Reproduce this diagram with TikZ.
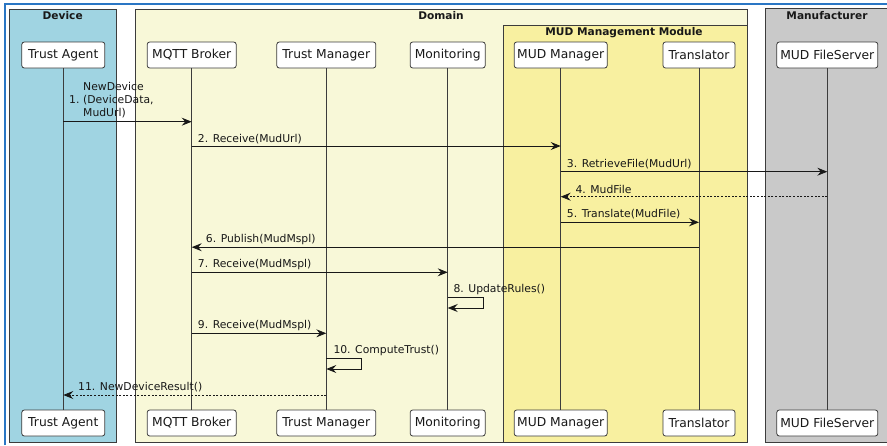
\documentclass[tikz,border=0pt]{standalone}
\usepackage{fontspec}
\setmainfont{DejaVu Sans}
\usetikzlibrary{arrows.meta}
\definecolor{devblue}{RGB}{160,212,226}
\definecolor{domyellow}{RGB}{248,248,216}
\definecolor{modyellow}{RGB}{248,240,160}
\definecolor{mfgray}{RGB}{201,201,201}
\definecolor{edge}{RGB}{60,60,60}
\definecolor{ink}{RGB}{24,24,24}
\definecolor{frameblue}{RGB}{42,118,196}

\begin{document}
\begin{tikzpicture}[x=1pt,y=-1pt,
  group/.style={draw=edge,line width=0.9pt},
  grouptitle/.style={font=\bfseries\fontsize{10.6}{12}\selectfont,inner sep=0pt,text=ink},
  actor/.style={draw=edge,fill=white,rounded corners=2.5pt,line width=0.8pt,
    minimum height=26pt,inner xsep=3pt,inner ysep=0pt,text=ink,
    font=\fontsize{12.3}{14}\selectfont},
  life/.style={draw=edge,line width=0.8pt},
  msg/.style={draw=ink,line width=0.8pt,-{Stealth[length=10pt,width=8pt,inset=3.5pt]}},
  reply/.style={msg,dash pattern=on 2pt off 1.6pt},
  lbl/.style={font=\fontsize{10.8}{13}\selectfont,inner sep=0pt,anchor=west,text=ink,align=left}
]
\useasboundingbox (0,0) rectangle (887,445);
\fill[white] (0,0) rectangle (887,445);

% outer frame
\draw[frameblue,line width=1.2pt] (5,445) -- (5,4) -- (887,4);

% grouping boxes
\filldraw[group,fill=devblue] (9.5,9) rectangle (116,442.5);
\filldraw[group,fill=domyellow] (135,9) rectangle (747,442.5);
\filldraw[group,fill=modyellow] (503,25.5) rectangle (747,442.5);
\filldraw[group,fill=mfgray] (765,8.5) rectangle (892,442.5);
\node[grouptitle] (tDev) at (62.7,15.7) {Device};
\node[grouptitle] (tDom) at (441,15.7) {Domain};
\node[grouptitle] (tMod) at (624,33) {MUD Management Module};
\node[grouptitle] (tMfg) at (827,15.5) {Manufacturer};

% participants, top row
\node[actor,minimum width=83pt] (taT) at (63.3,55) {Trust Agent};
\node[actor,minimum width=89pt] (mqT) at (191.7,55) {MQTT Broker};
\node[actor,minimum width=99pt] (tmT) at (326.3,55) {Trust Manager};
\node[actor,minimum width=75pt] (moT) at (447.7,55) {Monitoring};
\node[actor,minimum width=93pt] (mmT) at (560.7,55) {MUD Manager};
\node[actor,minimum width=72pt] (trT) at (699,55) {Translator};
\node[actor,minimum width=101pt] (fsT) at (827.3,55) {MUD FileServer};

% participants, bottom row
\node[actor,minimum width=83pt] (taB) at (63.3,423) {Trust Agent};
\node[actor,minimum width=89pt] (mqB) at (191.7,423) {MQTT Broker};
\node[actor,minimum width=99pt] (tmB) at (326.3,423) {Trust Manager};
\node[actor,minimum width=75pt] (moB) at (447.7,423) {Monitoring};
\node[actor,minimum width=93pt] (mmB) at (560.7,423) {MUD Manager};
\node[actor,minimum width=72pt] (trB) at (699,423) {Translator};
\node[actor,minimum width=101pt] (fsB) at (827.3,423) {MUD FileServer};

% lifelines
\foreach \p in {ta,mq,tm,mo,mm,tr,fs}
  \draw[life] (\p T) -- (\p B);

% 1
\draw[msg] (taT |- 0,121.7) -- (mqT |- 0,121.7);
\node[lbl] (l1n) at (69,100) {1.};
\node[lbl] (l1) at (83,100) {NewDevice\\(DeviceData,\\MudUrl)};
% 2
\draw[msg] (mqT |- 0,146) -- (mmT |- 0,146);
\node[lbl] (l2) at (197.7,139) {2. Receive(MudUrl)};
% 3
\draw[msg] (mmT |- 0,171.7) -- (fsT |- 0,171.7);
\node[lbl] (l3) at (566.7,164) {3. RetrieveFile(MudUrl)};
% 4
\draw[reply] (fsT |- 0,196.7) -- (mmT |- 0,196.7);
\node[lbl] (l4) at (575.3,189) {4. MudFile};
% 5
\draw[msg] (mmT |- 0,222.3) -- (trT |- 0,222.3);
\node[lbl] (l5) at (566.7,214.5) {5. Translate(MudFile)};
% 6
\draw[msg] (trT |- 0,247.2) -- (mqT |- 0,247.2);
\node[lbl] (l6) at (205.7,239.3) {6. Publish(MudMspl)};
% 7
\draw[msg] (mqT |- 0,272.3) -- (moT |- 0,272.3);
\node[lbl] (l7) at (197.7,264.7) {7. Receive(MudMspl)};
% 8 (self)
\draw[msg] (moT |- 0,297.5) -- ++(35.6,0) -- ++(0,10.5) -- (moT |- 0,308);
\node[lbl] (l8) at (453.3,289.5) {8. UpdateRules()};
% 9
\draw[msg] (mqT |- 0,333.3) -- (tmT |- 0,333.3);
\node[lbl] (l9) at (197.7,325.7) {9. Receive(MudMspl)};
% 10 (self)
\draw[msg] (tmT |- 0,358.7) -- ++(35.4,0) -- ++(0,10.3) -- (tmT |- 0,369);
\node[lbl] (l10) at (333.3,350.7) {10. ComputeTrust()};
% 11
\draw[reply] (tmT |- 0,395) -- (taT |- 0,395);
\node[lbl] (l11) at (78,386.7) {11. NewDeviceResult()};
\end{tikzpicture}
\end{document}
